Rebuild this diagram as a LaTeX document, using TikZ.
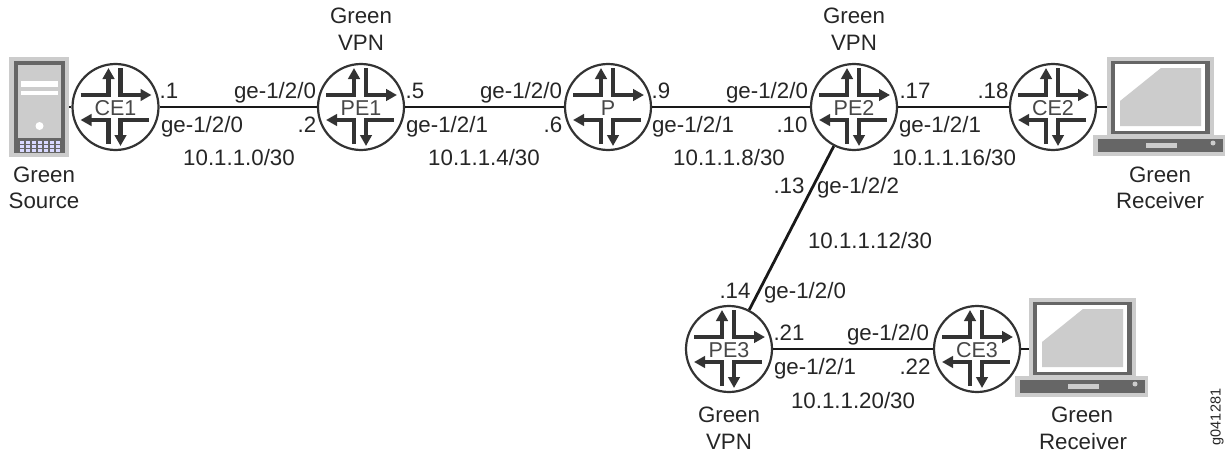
\documentclass[tikz,border=0pt]{standalone}
\usepackage{fontspec}
\setmainfont{Liberation Sans}
\usetikzlibrary{arrows.meta}
\definecolor{rdark}{HTML}{333333}
\definecolor{lgray}{HTML}{CCCCCC}
\definecolor{dgray}{HTML}{666666}
\tikzset{
  routernode/.style={circle,draw=rdark,line width=2.2pt,minimum size=86pt,inner sep=0pt},
  arm/.style={draw=rdark,line width=4.6pt,-{Triangle[length=11pt,width=11.5pt]}},
  linkline/.style={draw=black!90,line width=2.8pt},
  stub/.style={draw=black!90,line width=2pt},
  lab/.style={inner sep=0pt,anchor=base,font=\lbl,text=black!85},
  rlab/.style={inner sep=0pt,anchor=base,font=\rlbl,text=rdark!90},
}
\newcommand{\lbl}{\fontsize{22.3}{26}\selectfont}
\newcommand{\rlbl}{\fontsize{21.5}{25}\selectfont}
\newcommand{\routerat}[4]{%
  \node[routernode] (#1) at (#2,#3) {};
  \begin{scope}[shift={(#1.center)}]
    \draw[arm] (-35,-12) -- (-7,-12) -- (-7,-39);
    \draw[arm] (5,-39) -- (5,-12) -- (36,-12);
    \draw[arm] (33,13) -- (5,13) -- (5,39);
    \draw[arm] (-7,37) -- (-7,13) -- (-35,13);
  \end{scope}
  \node[rlab] (#1t) at (#2,#3+8.5) {#4};
}
\newcommand{\laptopat}[3]{%
  \begin{scope}[shift={(#2,#3)}]
    \fill[lgray] (0,0) rectangle (107,79);
    \fill[lgray] (-14,78) rectangle (119,99);
    \fill[dgray] (4,4) rectangle (103,77);
    \fill[white] (8,7) rectangle (98,74);
    \fill[lgray] (13,44) -- (54,11) -- (94,11) -- (94,69) -- (13,69) -- cycle;
    \fill[dgray] (-9,82) rectangle (116,95);
    \fill[lgray] (39,86) rectangle (70,91);
    \fill[lgray] (106,86) circle (2.5);
    \node[inner sep=0pt,minimum width=107pt,minimum height=79pt] (#1) at (53.5,39.5) {};
  \end{scope}
}
\begin{document}
\begin{tikzpicture}[x=1pt,y=-1pt]
\useasboundingbox (0,0) rectangle (1225,452);
% server
\fill[lgray] (9,57) rectangle (69,157);
\fill[dgray] (14,61) rectangle (65,153);
\fill[lgray] (18,65) rectangle (61,138);
\fill[white] (21,81) rectangle (58,87);
\fill[white] (21,91) rectangle (58,95);
\fill[white] (39.500,126) circle (4);
\foreach \gx in {20,26,...,56} \foreach \gy in {144.5,148.5,152.5} \fill[white!85!blue] (\gx,\gy-.5) rectangle +(4,-3.500);
\node[inner sep=0pt,minimum width=60pt,minimum height=100pt] (src) at (39,107) {};
% routers
\routerat{ce1}{115.5}{107}{CE1}
\routerat{pe1}{361}{107}{PE1}
\routerat{p}{608}{107}{P}
\routerat{pe2}{854}{107}{PE2}
\routerat{ce2}{1053}{107}{CE2}
\routerat{pe3}{729}{349}{PE3}
\routerat{ce3}{977}{349}{CE3}
\laptopat{lap2}{1107}{57}
\laptopat{lap3}{1029}{298}
% links
\draw[linkline] (ce1) -- (pe1);
\draw[linkline] (pe1) -- (p);
\draw[linkline] (p) -- (pe2);
\draw[linkline] (pe2) -- (ce2);
\draw[linkline] (pe2) -- (pe3);
\draw[linkline] (pe3) -- (ce3);
\draw[stub] (src.east) -- (ce1.west);
\draw[stub] (ce2.east) -- (ce2.east -| lap2.west);
\draw[stub] (ce3.east) -- (ce3.east -| lap3.west);
% text
\node[lab] (t1) at (361,24) {Green};
\node[lab] (t2) at (361,51) {VPN};
\node[lab] (t3) at (854,24) {Green};
\node[lab] (t4) at (854,51) {VPN};
\node[lab] (t5) at (44,182) {Green};
\node[lab] (t6) at (44,208) {Source};
\node[lab] (t7) at (1160,182) {Green};
\node[lab] (t8) at (1160,208) {Receiver};
\node[lab] (t9) at (1082,422) {Green};
\node[lab] (t10) at (1083,449) {Receiver};
\node[lab] (t11) at (729,422) {Green};
\node[lab] (t12) at (729,449) {VPN};
\node[lab] (a1) at (169,98) {.1};
\node[lab] (a2) at (275,98) {ge-1/2/0};
\node[lab] (a3) at (307,132) {.2};
\node[lab] (a4) at (202,132) {ge-1/2/0};
\node[lab] (a5) at (239,165) {10.1.1.0/30};
\node[lab] (b1) at (415,98) {.5};
\node[lab] (b2) at (521,98) {ge-1/2/0};
\node[lab] (b3) at (447,132) {ge-1/2/1};
\node[lab] (b4) at (553,132) {.6};
\node[lab] (b5) at (484,165) {10.1.1.4/30};
\node[lab] (c1) at (661,98) {.9};
\node[lab] (c2) at (767,98) {ge-1/2/0};
\node[lab] (c3) at (693,132) {ge-1/2/1};
\node[lab] (c4) at (792,132) {.10};
\node[lab] (c5) at (729,165) {10.1.1.8/30};
\node[lab] (d1) at (915,98) {.17};
\node[lab] (d2) at (993,98) {.18};
\node[lab] (d3) at (940,132) {ge-1/2/1};
\node[lab] (d4) at (954,165) {10.1.1.16/30};
\node[lab] (e1) at (789,193) {.13};
\node[lab] (e2) at (858,193) {ge-1/2/2};
\node[lab] (e3) at (870,248) {10.1.1.12/30};
\node[lab] (f1) at (735,298) {.14};
\node[lab] (f2) at (805,298) {ge-1/2/0};
\node[lab] (f3) at (789,340) {.21};
\node[lab] (f4) at (888,340) {ge-1/2/0};
\node[lab] (f5) at (915,374) {.22};
\node[lab] (f6) at (815,374) {ge-1/2/1};
\node[lab] (f7) at (853,408) {10.1.1.20/30};
\node[inner sep=0pt,font=\fontsize{14.5}{17}\selectfont,rotate=90,text=black!85] (g) at (1217,417) {g041281};
\end{tikzpicture}
\end{document}
